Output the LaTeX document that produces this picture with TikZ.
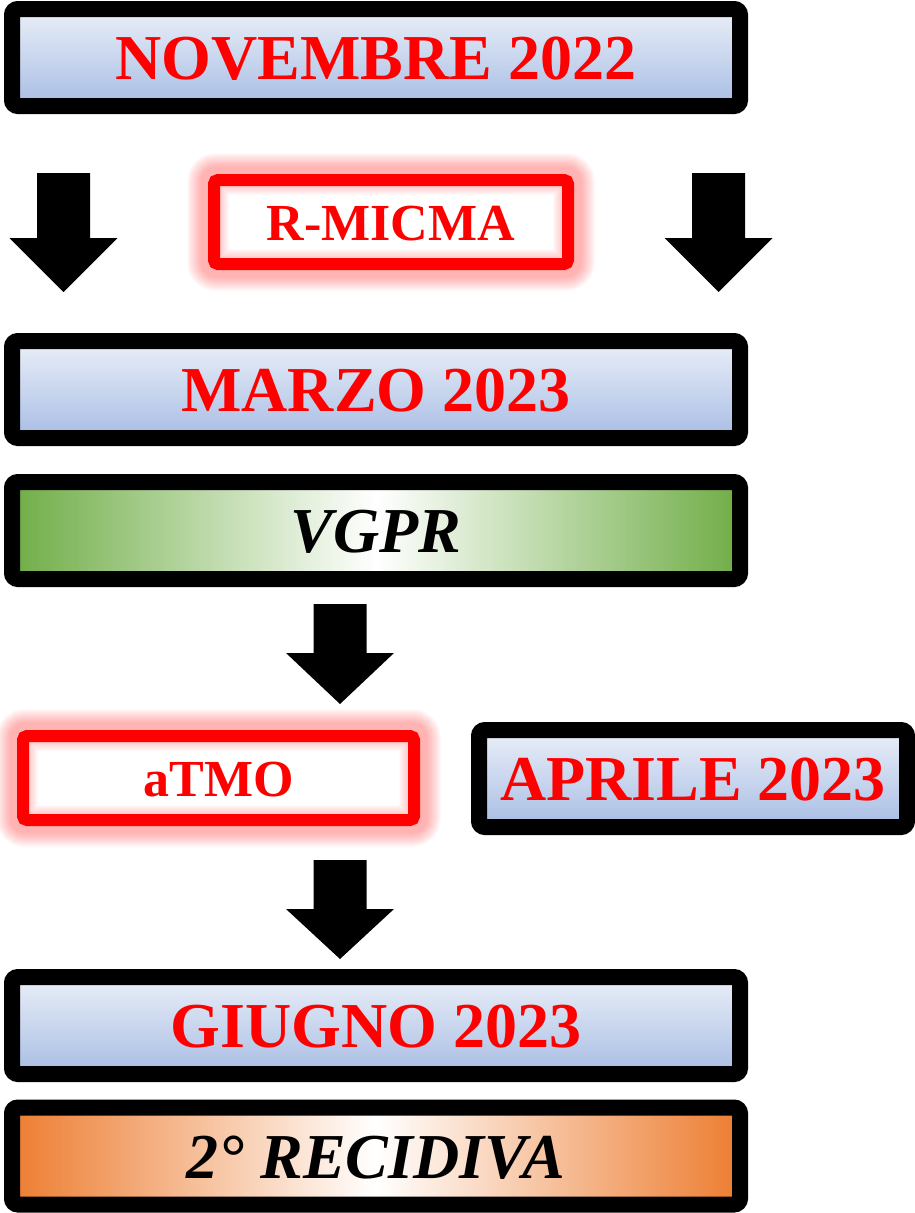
\documentclass[tikz,border=0pt]{standalone}
\usepackage{fontspec}
\setmainfont{Liberation Serif}
\usetikzlibrary{backgrounds}

\definecolor{bluetop}{RGB}{234,239,248}
\definecolor{bluebot}{RGB}{168,189,228}
\definecolor{vgprgreen}{RGB}{112,173,71}
\definecolor{recorange}{RGB}{237,125,49}

\tikzset{
  datebox/.style={draw=black, line width=16pt, rounded corners=6pt, inner sep=0pt,
    minimum width=728pt, minimum height=97pt, top color=bluetop, bottom color=bluebot,
    text=red, font=\fontsize{64}{70}\selectfont\bfseries, text height=44pt, text depth=0pt},
  statebox/.style={datebox, left color=#1, right color=#1, middle color=white,
    text=black, font=\fontsize{64}{70}\selectfont\bfseries\itshape},
  therapybox/.style={draw=red, line width=12pt, rounded corners=4pt, inner sep=0pt,
    minimum height=84pt, text=red, font=\fontsize{52}{60}\selectfont\bfseries,
    text height=36pt, text depth=0pt},
  pics/blockarrow/.style 2 args={code={
    \fill[black] (-26.5,0) -- (26.5,0) -- (26.5,#1) -- (54,#1) -- (0,#1+#2)
      -- (-54,#1) -- (-26.5,#1) -- cycle;}}
}

\begin{document}
\begin{tikzpicture}[x=1pt, y=-1pt]
    \useasboundingbox (0,0) rectangle (915,1213);

    \node[datebox] (nov) at (376,57.5) {NOVEMBRE 2022};
    \node[therapybox, minimum width=354pt] (rmicma) at (391,222) {R-MICMA};
    \node[datebox] (mar) at (376,389.5) {MARZO 2023};
    \node[statebox=vgprgreen] (vgpr) at (376,530.5) {VGPR};
    \node[therapybox, minimum width=391pt] (atmo) at (218.5,778) {aTMO};
    \node[datebox, minimum width=428pt] (apr) at (693,778.5) {APRILE 2023};
    \node[datebox] (giu) at (376,1025.5) {GIUGNO 2023};
    \node[statebox=recorange] (rec) at (376,1156) {2° RECIDIVA};

    % glow round the red boxes
    \begin{scope}[on background layer]
      \foreach \b in {rmicma,atmo}
        \foreach \w in {14,16,...,42}
          \draw[red, opacity=.025, line width=\w pt, rounded corners=8pt]
            (\b.south west) rectangle (\b.north east);
    \end{scope}

    \pic at (63.5,173) {blockarrow={65}{54}};
    \pic at (718.5,173) {blockarrow={65}{54}};
    \pic at (340,604) {blockarrow={49}{51}};
    \pic at (340,860) {blockarrow={49}{50}};
  \end{tikzpicture}
\end{document}
